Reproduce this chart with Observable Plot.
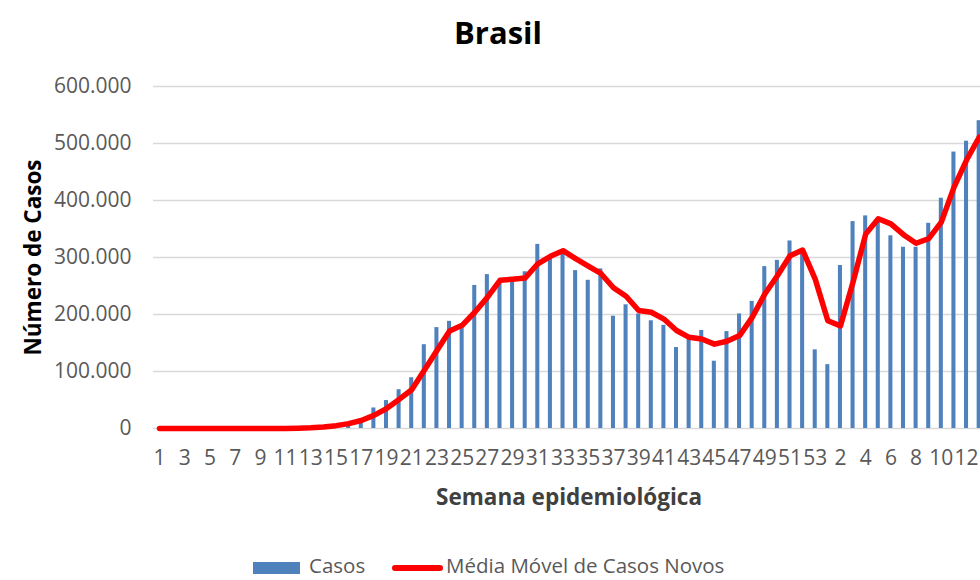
<!DOCTYPE html>
<html>
<head>
<meta charset="utf-8">
<script src="https://cdn.jsdelivr.net/npm/d3@7"></script>
<script src="https://cdn.jsdelivr.net/npm/@observablehq/plot@0.6"></script>
<style>
  html, body { margin: 0; padding: 0; background: #fff; overflow: hidden; width: 980px; height: 580px; }
  body { font-family: "Open Sans", sans-serif; position: relative; }
  #title { position: absolute; left: 0; top: 0; width: 996px; height: 60px; text-align: center;
           font-weight: bold; font-size: 31px; line-height: 64px; color: #000; }
  #chart { position: absolute; left: 0; top: 60px; }
  #legend { position: absolute; left: 0; top: 520px; width: 980px; height: 60px; }
  .li { position: absolute; top: 35px; font-size: 20.5px; color: #595959; line-height: 21px; white-space: nowrap; }
</style>
</head>
<body>
<div id="title">Brasil</div>
<div id="chart"></div>
<div id="legend">
  <div style="position:absolute; left:253px; top:42px; width:47px; height:12px; background:#4F81BD;"></div>
  <div class="li" style="left:309px;">Casos</div>
  <div style="position:absolute; left:392px; top:45px; width:51px; height:6px; border-radius:3px; background:#FF0000;"></div>
  <div class="li" style="left:446px;">Média Móvel de Casos Novos</div>
</div>
<script>
// Semanas epidemiológicas: 2020 (1–53) e 2021 (1–13)
const semanas = [
  1,2,3,4,5,6,7,8,9,10,11,12,13,14,15,16,17,18,19,20,21,22,23,24,25,26,27,28,29,30,
  31,32,33,34,35,36,37,38,39,40,41,42,43,44,45,46,47,48,49,50,51,52,53,
  1,2,3,4,5,6,7,8,9,10,11,12,13
];
const casos = [
  0,0,0,0,0,0,0,0,0,0,100,800,2000,3500,5000,9000,17000,36000,49000,68000,
  89000,147000,177000,188000,178000,251000,270000,258000,257000,275000,
  323000,298000,306000,277000,260000,280000,197000,217000,201000,189000,
  181000,142000,157000,172000,118000,170000,201000,223000,284000,295000,
  329000,312000,138000,
  112000,286000,363000,373000,365000,338000,318000,318000,360000,404000,485000,504000,540000
];
const media = [
  0,0,0,0,0,0,0,0,0,0,50,400,1200,2500,5000,8500,14000,23000,35000,51000,
  68000,102000,137000,171000,181000,204000,230000,260000,262000,264000,
  289000,302000,312000,298000,285000,272000,247000,232000,207000,204000,
  192000,172000,160000,157000,148000,153000,163000,195000,236000,268000,
  303000,313000,262000,
  189000,180000,257000,341000,368000,359000,340000,325000,333000,362000,423000,471000,511000
];
const yTicks = [0,100000,200000,300000,400000,500000,600000];

const data = semanas.map((s, i) => ({idx: i, semana: s, casos: casos[i], media: media[i]}));
const fmt = d3.formatLocale({decimal: ",", thousands: ".", grouping: [3]}).format(",d");
const domain = data.map(d => d.idx);

const width = 980, height = 460;
const chart = Plot.plot({
  width, height,
  marginLeft: 153, marginRight: 0, marginTop: 26, marginBottom: 92,
  style: {fontFamily: "'Open Sans', sans-serif", fontSize: "21px", color: "#595959", background: "transparent"},
  x: {type: "band", domain, range: [152.7, 152.7 + 66 * 12.61], paddingInner: 0.68, paddingOuter: 0.34, align: 0.5},
  y: {domain: [0, 600000]},
  marks: [
    Plot.gridY(yTicks, {stroke: "#d9d9d9", strokeOpacity: 1, strokeWidth: 1.5}),
    Plot.barY(data, {x: "idx", y: "casos", fill: "#4F81BD"}),
    Plot.line(data, {x: "idx", y: "media", stroke: "#FF0000", strokeWidth: 5.5, strokeLinejoin: "round", strokeLinecap: "round"}),
    Plot.axisY(yTicks, {tickSize: 0, tickPadding: 22, tickFormat: fmt, label: null, fill: "#595959"}),
    Plot.axisX(domain.filter(i => i % 2 === 0), {tickSize: 0, tickPadding: 22, tickFormat: i => String(semanas[i]), label: null, fill: "#595959"}),
    Plot.text(["Semana epidemiológica"], {frameAnchor: "bottom", dy: 76, dx: 2, fontWeight: "bold", fontSize: 22.5, fill: "#404040"}),
    Plot.text(["Número de Casos"], {frameAnchor: "left", dx: -120, rotate: -90, textAnchor: "middle", fontWeight: "bold", fontSize: 22.5, fill: "#000"})
  ]
});
document.getElementById("chart").appendChild(chart);
</script>
</body>
</html>
